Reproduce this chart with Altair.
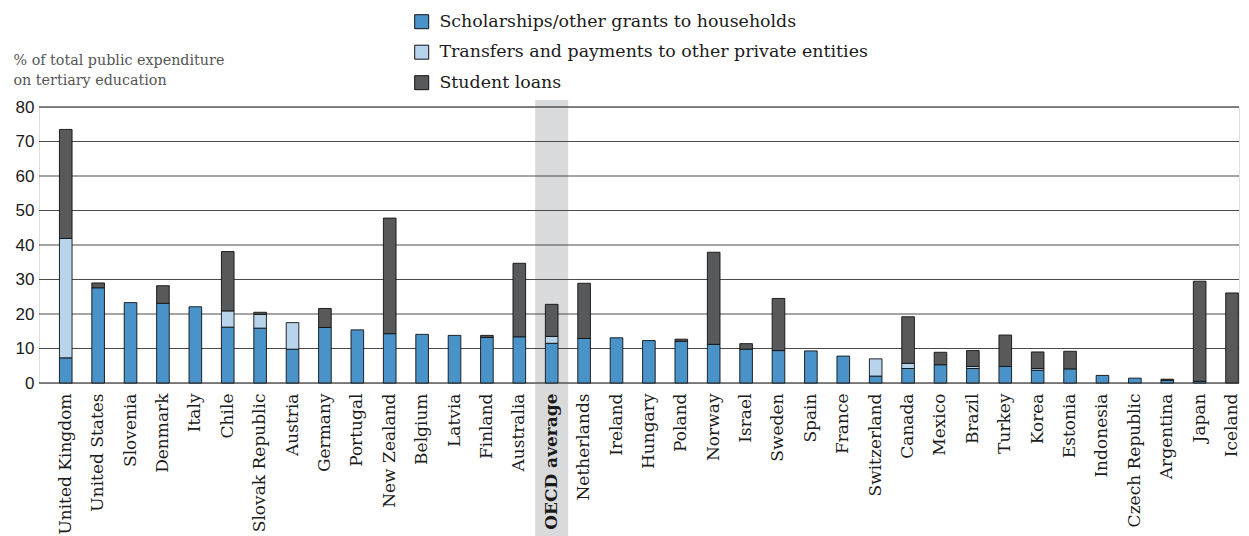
import altair as alt
import pandas as pd

countries = ["United Kingdom", "United States", "Slovenia", "Denmark", "Italy", "Chile",
             "Slovak Republic", "Austria", "Germany", "Portugal", "New Zealand", "Belgium",
             "Latvia", "Finland", "Australia", "OECD average", "Netherlands", "Ireland",
             "Hungary", "Poland", "Norway", "Israel", "Sweden", "Spain", "France",
             "Switzerland", "Canada", "Mexico", "Brazil", "Turkey", "Korea", "Estonia",
             "Indonesia", "Czech Republic", "Argentina", "Japan", "Iceland"]

scholarships = [7.3, 27.6, 23.3, 23.1, 22.1, 16.2, 15.9, 9.8, 16.1, 15.4, 14.3, 14.1,
                13.8, 13.2, 13.4, 11.5, 12.9, 13.1, 12.3, 12.1, 11.2, 9.8, 9.4, 9.3, 7.8,
                2.0, 4.2, 5.3, 4.2, 4.8, 3.7, 4.1, 2.2, 1.4, 0.8, 0.5, 0.0]

transfers = [34.6, 0, 0, 0, 0, 4.7, 4.0, 7.7, 0, 0, 0, 0,
             0, 0, 0, 2.0, 0, 0, 0, 0, 0, 0, 0, 0, 0,
             5.0, 1.5, 0, 0.6, 0, 0.5, 0, 0, 0, 0, 0, 0]

loans = [31.6, 1.4, 0, 5.1, 0, 17.2, 0.6, 0, 5.5, 0, 33.5, 0,
         0, 0.6, 21.3, 9.3, 16.0, 0, 0, 0.6, 26.7, 1.6, 15.1, 0, 0,
         0, 13.5, 3.6, 4.6, 9.1, 4.8, 5.1, 0, 0, 0.3, 29.0, 26.1]

series_names = ["Scholarships/other grants to households",
                "Transfers and payments to other private entities",
                "Student loans"]
series_colors = ["#4a93c9", "#b7d4ec", "#58595b"]
y_ticks = [0, 10, 20, 30, 40, 50, 60, 70, 80]
highlight_country = ["OECD average"]

rows = []
for i, c in enumerate(countries):
    for k, vals in enumerate([scholarships, transfers, loans]):
        if vals[i] > 0:
            rows.append({"country": c, "series": series_names[k], "value": vals[i], "order": k})
df = pd.DataFrame(rows)

W, H = 1200, 276

xscale = alt.Scale(domain=countries, paddingInner=0.61, paddingOuter=0.325, align=0.97, round=False)
yscale = alt.Scale(domain=[0, 80], nice=False)

x_axis = alt.Axis(title=None, labelAngle=-90, labelAlign="right", labelBaseline="middle",
                  labelFont="DejaVu Serif", labelFontSize=17, labelColor="#1a1a1a",
                  labelPadding=10, domain=False, ticks=False, labelLimit=0, grid=False,
                  zindex=2,
                  labelFontWeight=alt.expr("datum.value == 'OECD average' ? 'bold' : 'normal'"))
y_axis = alt.Axis(values=y_ticks, grid=False, domain=False, ticks=False,
                  labelFont="Liberation Sans", labelFontSize=17, labelColor="#1a1a1a",
                  labelPadding=5, zindex=2,
                  title=["% of total public expenditure", "on tertiary education"],
                  titleAngle=0, titleAlign="left", titleBaseline="alphabetic",
                  titleX=-26, titleY=-43, titleFont="DejaVu Serif", titleFontSize=14.3,
                  titleFontWeight="normal", titleColor="#555555", titleLineHeight=20)

highlight = alt.Chart(pd.DataFrame({"country": highlight_country})).mark_bar(
    size=33, color="#d9dadb"
).encode(
    x=alt.X("country:N", scale=xscale, sort=countries, axis=x_axis),
    y=alt.value(-7),
    y2=alt.value(H + 160),
)

grid = alt.Chart(pd.DataFrame({"tick": y_ticks})).mark_rule(strokeWidth=1.2).encode(
    y=alt.Y("tick:Q", scale=yscale, axis=y_axis),
    color=alt.condition("datum.tick == 0 || datum.tick == 80", alt.value("#111111"), alt.value("#4a4a4a")),
)

bars = alt.Chart(df).mark_bar(stroke="#111111", strokeWidth=0.9).encode(
    x=alt.X("country:N", scale=xscale, sort=countries, axis=x_axis),
    y=alt.Y("value:Q", scale=yscale, stack="zero", axis=y_axis),
    color=alt.Color("series:N", scale=alt.Scale(domain=series_names, range=series_colors),
                    legend=alt.Legend(title=None, orient="none", legendX=374, legendY=-94,
                                      symbolType="square", symbolSize=196,
                                      symbolStrokeColor="#111111", symbolStrokeWidth=1,
                                      labelFont="DejaVu Serif", labelFontSize=17.4,
                                      labelColor="#1a1a1a", rowPadding=11.5, labelLimit=0,
                                      labelOffset=9)),
    order=alt.Order("order:Q"),
)

chart = alt.layer(highlight, grid, bars).properties(
    width=W, height=H,
    autosize=alt.AutoSizeParams(type="none"),
    padding={"left": 31, "top": 99, "right": 2, "bottom": 153},
).configure_view(stroke=None).configure(background="white")

chart.save("out.html", embed_options={"renderer": "svg", "actions": False})
